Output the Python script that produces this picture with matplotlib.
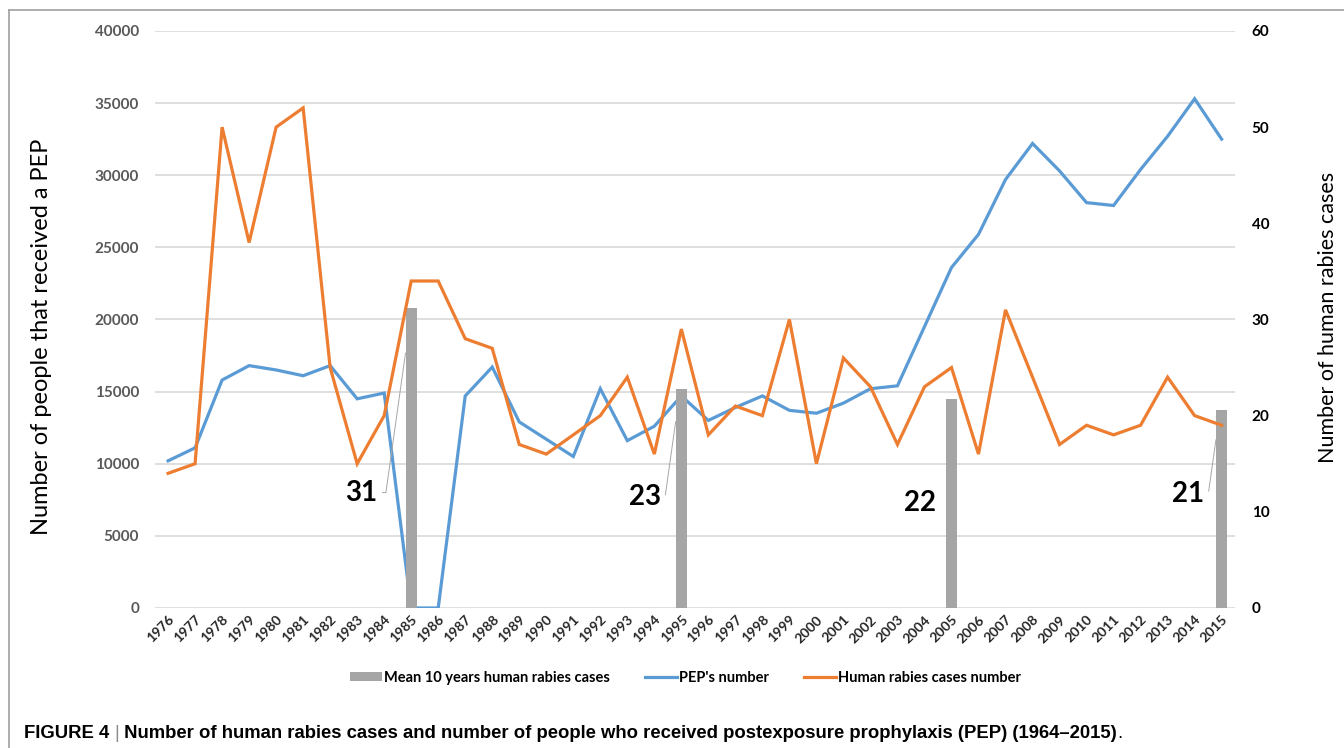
import numpy as np
import matplotlib
matplotlib.use('Agg')
import matplotlib.pyplot as plt
from matplotlib.patches import Patch
from matplotlib.lines import Line2D

years = list(range(1976, 2016))
pep = [10200, 11100, 15800, 16800, 16500, 16100, 16800, 14500, 14900, 0,
       0, 14700, 16700, 12900, 11700, 10500, 15200, 11600, 12600, 14700,
       13000, 13900, 14700, 13700, 13500, 14200, 15200, 15400, 19500, 23600,
       25900, 29700, 32200, 30300, 28100, 27900, 30400, 32700, 35300, 32500]
rabies = [14, 15, 50, 38, 50, 52, 25, 15, 20, 34,
          34, 28, 27, 17, 16, 18, 20, 24, 16, 29,
          18, 21, 20, 30, 15, 26, 23, 17, 23, 25,
          16, 31, 24, 17, 19, 18, 19, 24, 20, 19]
mean_years = [1985, 1995, 2005, 2015]
mean_cases = [31.2, 22.8, 21.7, 20.6]

BLUE = '#5B9BD5'
ORANGE = '#ED7D31'
GRAY = '#A5A5A5'

plt.rcParams['font.family'] = ['Lato', 'DejaVu Sans']

fig = plt.figure(figsize=(13.44, 7.48), dpi=100)
ax = fig.add_axes([0.115, 0.1872, 0.804, 0.7714])
ax2 = ax.twinx()

x = np.arange(len(years))

# left axis: PEP numbers + grid
ax.plot(x, pep, color=BLUE, lw=2.3, solid_joinstyle='miter')
ax.set_ylim(0, 40000)
ax.set_yticks(range(0, 40001, 5000))
ax.grid(axis='y', color='#D9D9D9', lw=1.2)
ax.set_axisbelow(True)
ax.set_xlim(-0.5, len(years) - 0.5)
ax.set_xticks(x)
ax.set_xticklabels([str(y) for y in years], rotation=45, ha='right',
                   rotation_mode='anchor', fontsize=10, fontweight='bold', color='#262626')
for lab in ax.get_yticklabels():
    lab.set_fontweight('bold')
ax.tick_params(axis='y', length=0, pad=11, labelsize=11, labelcolor='#595959')
ax.tick_params(axis='x', length=0, pad=4)
ax.set_ylabel('Number of people that received a PEP', fontsize=17)
ax.yaxis.set_label_coords(-0.095, 0.47)
for s in ax.spines.values():
    s.set_visible(False)

# right axis: bars + rabies cases
bar_idx = [years.index(y) for y in mean_years]
bw = 0.42
ax2.bar(bar_idx, mean_cases, width=bw, color=GRAY, zorder=1)
ax2.plot(x, rabies, color=ORANGE, lw=2.3, solid_joinstyle='miter', zorder=3)
ax2.set_ylim(0, 60)
ax2.set_yticks(range(0, 61, 10))
ax2.tick_params(axis='y', length=0, pad=12, labelsize=11, labelcolor='#000000')
for lab in ax2.get_yticklabels():
    lab.set_fontweight('bold')
ax2.set_ylabel('Number of human rabies cases', fontsize=15.5, rotation=90)
ax2.yaxis.set_label_coords(1.077, 0.503)
for s in ax2.spines.values():
    s.set_visible(False)

# data labels with leader lines
label_off = [(-4.2, -19.2), (-2.7, -11.3), (-2.2, -10.8), (-2.4, -8.7)]
leader = [True, True, False, True]
for i, v, (dx, dy), ld in zip(bar_idx, mean_cases, label_off, leader):
    tx, ty = i + dx * 0.35 + 0.2, v + dy
    if ld:
        ax2.annotate(f'{v:.0f}', xy=(i - bw / 2, v * 0.85), xytext=(tx, ty),
                     textcoords='data', ha='right', va='center',
                     fontsize=20, fontweight='bold', color='black',
                     arrowprops=dict(arrowstyle='-', color='#A6A6A6', lw=0.7,
                                     shrinkA=2, shrinkB=0, relpos=(1, 0.5),
                                     connectionstyle='angle,angleA=0,angleB=82,rad=0'))
    else:
        ax2.text(tx, ty, f'{v:.0f}', ha='right', va='center',
                 fontsize=20, fontweight='bold', color='black')

# legend
handles = [Patch(facecolor=GRAY, edgecolor='none'),
           Line2D([], [], color=BLUE, lw=2.3),
           Line2D([], [], color=ORANGE, lw=2.3)]
labels = ['Mean 10 years human rabies cases', "PEP's number", 'Human rabies cases number']
fig.legend(handles, labels, loc='center', bbox_to_anchor=(0.510, 0.094), ncol=3,
           frameon=False, handlelength=2.2, handleheight=0.6,
           columnspacing=2.4, handletextpad=0.15, prop={'weight': 'bold', 'size': 10.5})

# frame
fig.add_artist(Line2D([0.0067, 0.0067], [0.0, 0.9866], color='#A0A0A0', lw=1.2,
                      transform=fig.transFigure))
fig.add_artist(Line2D([0.0067, 1.0], [0.9866, 0.9866], color='#A0A0A0', lw=1.2,
                      transform=fig.transFigure))

# caption
cap = ['Liberation Sans', 'DejaVu Sans']
t1 = fig.text(0.018, 0.02, 'FIGURE 4 ', fontsize=13.3, fontweight='bold', family=cap,
              va='center', ha='left')
t2 = ax.annotate('|', xy=(1, 0.5), xycoords=t1, va='center', ha='left',
                 fontsize=13.5, color='#8C8C8C', family=cap, annotation_clip=False)
t3 = ax.annotate(' Number of human rabies cases and number of people who received '
                 'postexposure prophylaxis (PEP) (1964\u20132015)',
                 xy=(1, 0.5), xycoords=t2, va='center', ha='left', fontsize=13.3,
                 fontweight='bold', family=cap, annotation_clip=False)
ax.annotate('.', xy=(1, 0.5), xycoords=t3, va='center', ha='left', fontsize=13.3,
            family=cap, annotation_clip=False)

fig.savefig('out.png', dpi=100)
